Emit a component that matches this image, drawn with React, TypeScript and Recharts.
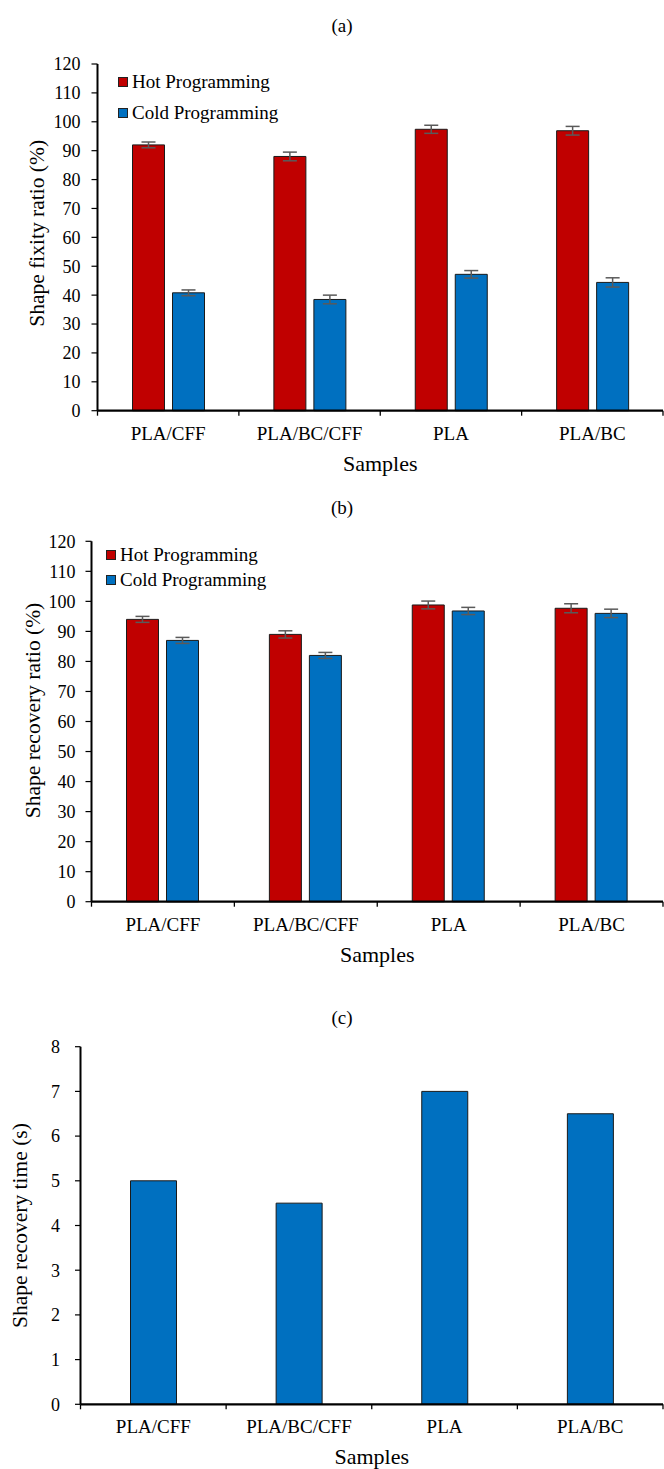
import React from 'react';
import { BarChart, Bar, XAxis, YAxis, ErrorBar, Legend } from 'recharts';

// Sample names shared by all three panels
const samples = ['PLA/CFF', 'PLA/BC/CFF', 'PLA', 'PLA/BC'];

// Series names, in legend order
const seriesNames = ['Hot Programming', 'Cold Programming'];

// (a) shape fixity ratio, %
const fixityHot = [92, 88, 97.4, 96.9];
const fixityHotErr = [1, 1.5, 1.4, 1.5];
const fixityCold = [40.8, 38.5, 47.2, 44.4];
const fixityColdErr = [1, 1.5, 1.3, 1.6];

// (b) shape recovery ratio, %
const recoveryHot = [94, 89, 98.8, 97.7];
const recoveryHotErr = [1, 1.2, 1.3, 1.5];
const recoveryCold = [87, 82, 96.8, 96];
const recoveryColdErr = [1, 1, 1.2, 1.4];

// (c) shape recovery time, s
const recoveryTime = [5, 4.5, 7, 6.5];

const percentTicks = [0, 10, 20, 30, 40, 50, 60, 70, 80, 90, 100, 110, 120];
const timeTicks = [0, 1, 2, 3, 4, 5, 6, 7, 8];

const HOT = '#C00000';
const COLD = '#0070C0';
const FONT = '"Liberation Serif", "Times New Roman", serif';

const fixityData = samples.map((name, i) => ({
  name,
  hot: fixityHot[i],
  hotErr: fixityHotErr[i],
  cold: fixityCold[i],
  coldErr: fixityColdErr[i],
}));

const recoveryData = samples.map((name, i) => ({
  name,
  hot: recoveryHot[i],
  hotErr: recoveryHotErr[i],
  cold: recoveryCold[i],
  coldErr: recoveryColdErr[i],
}));

const timeData = samples.map((name, i) => ({ name, time: recoveryTime[i] }));

// Category tick: label under the band centre, small tick marks on band edges
function CategoryTick(props: any) {
  const { x, y, payload, index, visibleTicksCount, width } = props;
  const half =
    payload && typeof payload.offset === 'number' && payload.offset > 0
      ? payload.offset
      : (width ?? 0) / (2 * (visibleTicksCount || 1));
  const last = index === visibleTicksCount - 1;
  return (
    <g>
      <line x1={x - half} x2={x - half} y1={y} y2={y + 5} stroke="#000" strokeWidth={1.3} />
      {last && <line x1={x + half} x2={x + half} y1={y} y2={y + 5} stroke="#000" strokeWidth={1.3} />}
      <text x={x} y={y + 29} textAnchor="middle" fontFamily={FONT} fontSize={19} fill="#000">
        {payload.value}
      </text>
    </g>
  );
}

function xTitle(text: string) {
  return (p: any) => {
    const vb = p.viewBox || {};
    return (
      <text
        x={vb.x + vb.width / 2}
        y={vb.y + 60}
        textAnchor="middle"
        fontFamily={FONT}
        fontSize={22}
        fill="#000"
      >
        {text}
      </text>
    );
  };
}

function yTitle(text: string, cx: number, shift: number) {
  return (p: any) => {
    const vb = p.viewBox || {};
    const cy = vb.y + vb.height / 2 + shift;
    return (
      <text
        x={cx}
        y={cy}
        transform={`rotate(-90 ${cx} ${cy})`}
        textAnchor="middle"
        dominantBaseline="central"
        fontFamily={FONT}
        fontSize={21.5}
        fill="#000"
      >
        {text}
      </text>
    );
  };
}

function legendContent(rowHeight: number) {
  return (p: any) => {
    const items = [...(p.payload || [])].sort(
      (a: any, b: any) => seriesNames.indexOf(a.value) - seriesNames.indexOf(b.value)
    );
    return (
      <div style={{ fontFamily: FONT, fontSize: 19, color: '#000' }}>
        {items.map((it: any) => (
          <div
            key={it.value}
            style={{ display: 'flex', alignItems: 'center', height: rowHeight, whiteSpace: 'nowrap' }}
          >
            <span
              style={{
                display: 'inline-block',
                width: 8,
                height: 8,
                background: it.color,
                border: '1px solid #222',
                marginRight: 4,
              }}
            />
            <span>{it.value}</span>
          </div>
        ))}
      </div>
    );
  };
}

const tickStyle = { fontFamily: FONT, fontSize: 18, fill: '#000' };

function PanelTitle({ text, top }: { text: string; top: number }) {
  return (
    <div
      style={{
        position: 'absolute',
        left: 342,
        top,
        transform: 'translate(-50%, -50%)',
        fontFamily: FONT,
        fontSize: 19,
        lineHeight: 1,
        color: '#000',
      }}
    >
      {text}
    </div>
  );
}

function ProgrammingChart({
  data,
  top,
  height,
  margin,
  yWidth,
  yMargin,
  yLabel,
  yLabelX,
  yLabelShift,
  legendPos,
  rowHeight,
}: any) {
  return (
    <div style={{ position: 'absolute', left: 0, top }}>
      <BarChart width={664} height={height} data={data} margin={margin} barSize={32} barGap={8}>
        <XAxis
          dataKey="name"
          height={60}
          tickSize={0}
          tickMargin={0}
          tickLine={false}
          axisLine={{ stroke: '#000', strokeWidth: 2.2 }}
          tick={<CategoryTick />}
          interval={0}
          label={{ content: xTitle('Samples') }}
        />
        <XAxis xAxisId="frameTop" dataKey="name" orientation="top" height={0} tick={false} tickLine={false} axisLine={{ stroke: '#111', strokeWidth: 1.3 }} />
        <YAxis
          domain={[0, 120]}
          ticks={percentTicks}
          interval={0}
          width={yWidth}
          tickSize={6}
          tickMargin={yMargin}
          tick={tickStyle}
          tickLine={{ stroke: '#000', strokeWidth: 1.2 }}
          axisLine={{ stroke: '#000', strokeWidth: 2 }}
          label={{ content: yTitle(yLabel, yLabelX, yLabelShift) }}
        />
        <YAxis yAxisId="frameRight" orientation="right" width={0} domain={[0, 120]} tick={false} tickLine={false} axisLine={{ stroke: '#8c8c8c', strokeWidth: 1 }} />
        <Legend
          layout="vertical"
          align="center"
          verticalAlign="middle"
          wrapperStyle={{ left: legendPos.left, top: legendPos.top, width: 'auto' }}
          content={legendContent(rowHeight)}
        />
        <Bar dataKey="hot" name={seriesNames[0]} fill={HOT} stroke="#1a1a1a" strokeWidth={1} isAnimationActive={false}>
          <ErrorBar dataKey="hotErr" width={7} stroke="#5a5a5a" strokeWidth={1.5} direction="y" />
        </Bar>
        <Bar dataKey="cold" name={seriesNames[1]} fill={COLD} stroke="#1a1a1a" strokeWidth={1} isAnimationActive={false}>
          <ErrorBar dataKey="coldErr" width={7} stroke="#5a5a5a" strokeWidth={1.5} direction="y" />
        </Bar>
      </BarChart>
    </div>
  );
}

export default function App() {
  return (
    <div style={{ position: 'absolute', left: 0, top: 0, width: 664, height: 1469, background: '#fff', overflow: 'hidden' }}>
      <PanelTitle text="(a)" top={25} />
      <ProgrammingChart
        data={fixityData}
        top={0}
        height={480}
        margin={{ top: 64, right: 1, bottom: 9.3, left: 0 }}
        yWidth={97.5}
        yMargin={11}
        yLabel="Shape fixity ratio (%)"
        yLabelX={37}
        yLabelShift={-4}
        legendPos={{ left: 118, top: 66.5 }}
        rowHeight={31}
      />

      <PanelTitle text="(b)" top={507} />
      <ProgrammingChart
        data={recoveryData}
        top={480}
        height={500}
        margin={{ top: 61.3, right: 1, bottom: 18.3, left: 0 }}
        yWidth={91.5}
        yMargin={10}
        yLabel="Shape recovery ratio (%)"
        yLabelX={33}
        yLabelShift={-11}
        legendPos={{ left: 106, top: 62.5 }}
        rowHeight={25}
      />

      <PanelTitle text="(c)" top={1017} />
      <div style={{ position: 'absolute', left: 0, top: 980 }}>
        <BarChart width={664} height={489} data={timeData} margin={{ top: 66.7, right: 1, bottom: 4.7, left: 0 }} barSize={46}>
          <XAxis
            dataKey="name"
            height={60}
            tickSize={0}
            tickMargin={0}
            tickLine={false}
            axisLine={{ stroke: '#000', strokeWidth: 2.2 }}
            tick={<CategoryTick />}
            interval={0}
            label={{ content: xTitle('Samples') }}
          />
          <XAxis xAxisId="frameTop" dataKey="name" orientation="top" height={0} tick={false} tickLine={false} axisLine={{ stroke: '#111', strokeWidth: 1.3 }} />
          <YAxis
            domain={[0, 8]}
            ticks={timeTicks}
            interval={0}
            width={80.5}
            tickSize={5.5}
            tickMargin={15}
            tick={tickStyle}
            tickLine={{ stroke: '#000', strokeWidth: 1.2 }}
            axisLine={{ stroke: '#000', strokeWidth: 2 }}
            label={{ content: yTitle('Shape recovery time (s)', 20, 0) }}
          />
          <YAxis yAxisId="frameRight" orientation="right" width={0} domain={[0, 8]} tick={false} tickLine={false} axisLine={{ stroke: '#8c8c8c', strokeWidth: 1 }} />
          <Bar dataKey="time" name="Shape recovery time" fill={COLD} stroke="#1a1a1a" strokeWidth={1} isAnimationActive={false} />
        </BarChart>
      </div>
    </div>
  );
}
